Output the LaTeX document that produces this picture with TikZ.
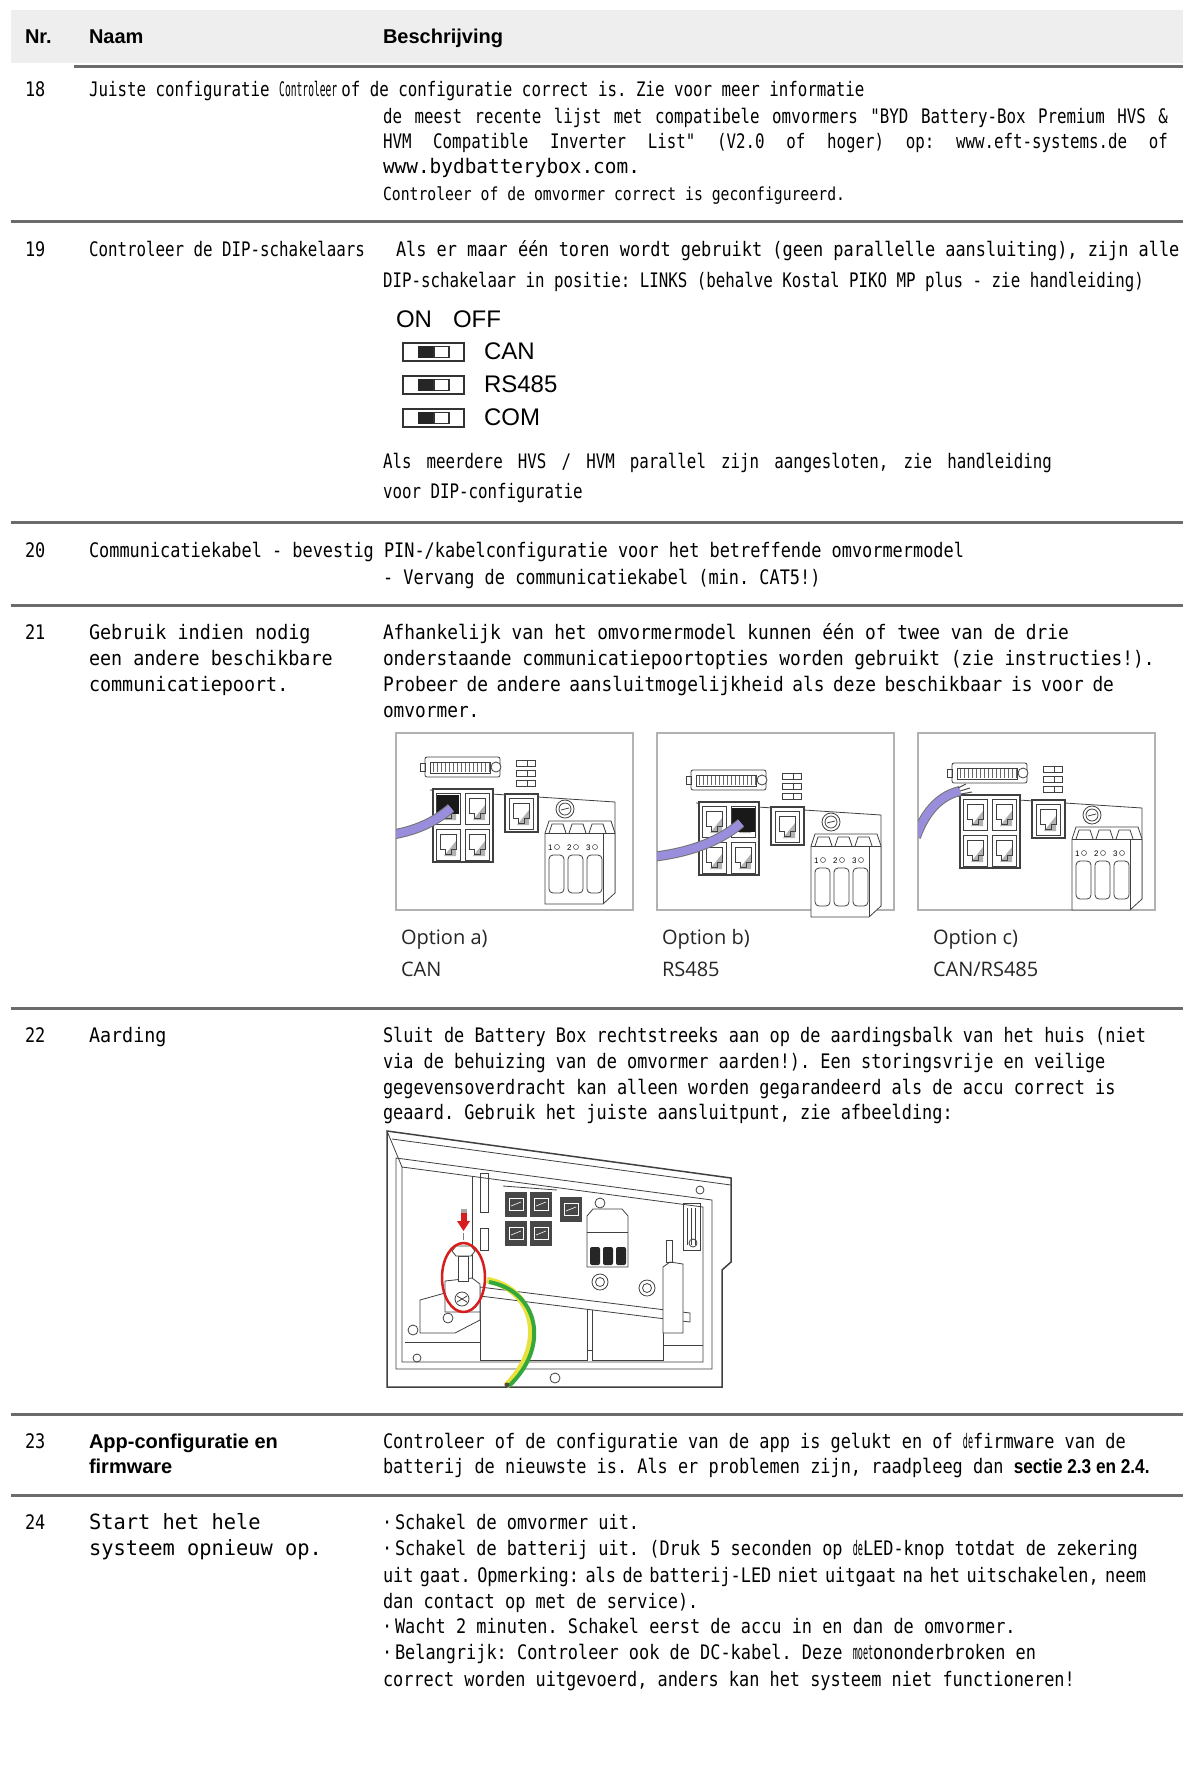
\documentclass[tikz,border=0pt]{standalone}
\usepackage{fontspec}
\usepackage{graphicx}
\newfontfamily\monoA{DejaVu Sans Mono}[FakeStretch=0.79,Ligatures=TeXOff]
\newfontfamily\monoB{DejaVu Sans Mono}[FakeStretch=0.845,Ligatures=TeXOff]
\newfontfamily\monoC{DejaVu Sans Mono}[FakeStretch=0.89,Ligatures=TeXOff]
\newfontfamily\monoD{DejaVu Sans Mono}[FakeStretch=0.92,Ligatures=TeXOff]
\newfontfamily\monoE{DejaVu Sans Mono}[FakeStretch=0.97,Ligatures=TeXOff]
\newfontfamily\monoF{DejaVu Sans Mono}[FakeStretch=0.82,Ligatures=TeXOff]
\newfontfamily\arial{Liberation Sans}
\newfontfamily\arialc{Liberation Sans}[FakeStretch=0.86]
\newfontfamily\opensans{Open Sans}
\definecolor{hdrgray}{RGB}{238,238,238}
\definecolor{cablepurple}{RGB}{152,142,220}
\definecolor{gndgreen}{RGB}{52,168,60}
\definecolor{gndyellow}{RGB}{232,226,60}
\definecolor{markred}{RGB}{215,30,30}
\newcommand\squash[2][0.5]{\scalebox{#1}[1]{#2}}
\newcommand\jbox[2]{\hbox to #1{\spaceskip=\fontdimen2\font plus 1fil minus .5\fontdimen2\font\relax\xspaceskip=\spaceskip #2}}
\frenchspacing
\tikzset{
	txt/.style={anchor=base west,inner sep=0pt,outer sep=0pt},
	hdr/.style={txt,font=\arial\bfseries\fontsize{20}{24}\selectfont},
	monoa/.style={txt,font=\monoA\fontsize{20}{24}\selectfont},
	monob/.style={txt,font=\monoB\fontsize{20}{24}\selectfont},
	monoc/.style={txt,font=\monoC\fontsize{20}{24}\selectfont},
	monod/.style={txt,font=\monoD\fontsize{20}{24}\selectfont},
	dipl/.style={txt,font=\arial\fontsize{24}{28}\selectfont},
	capt/.style={txt,font=\opensans\fontsize{20}{24}\selectfont,text=black!85},
	pinlbl/.style={txt,font=\arial\fontsize{8}{8}\selectfont},
	sepline/.style={line width=3pt,draw=black!58},
	optframe/.style={draw=black!30,line width=1.2pt},
	sketch/.style={draw=black!75,line width=0.8pt},
	cable/.style={draw=black!55,line width=1pt,double=cablepurple,double distance=8pt}
}
\newcommand\rjport[2]{%
	\begin{scope}[shift={(#1,#2)}]
		\fill[black!30] (20,12) -- (20,27) -- (8,27) -- cycle;
		\draw[sketch] (0,0) rectangle (24,31);
		\draw[sketch,line width=0.6pt] (4,5) -- (20,5) -- (20,20) -- (15,20) -- (15,25) -- (9,25) -- (9,20) -- (4,20) -- cycle;
	\end{scope}}
\newcommand\ioboard{%
	\draw[sketch,fill=white,rounded corners=2pt] (29,24) rectangle (104,44);
	\draw[sketch] (34,29) rectangle (94,40);
	\foreach \px in {37,41,...,93} \draw[black!60,line width=0.5pt] (\px,30) -- (\px,39);
	\draw[sketch,fill=white] (100,34) circle (5pt);
	\draw[sketch] (24,30) rectangle (29,38);
	\foreach \py in {27,37,47} {\draw[sketch] (120,\py) rectangle (139,\py+6); \draw[sketch] (131,\py) -- (131,\py+6);}
	\draw[sketch] (34,57) -- (219,69) -- (219,160);
	\draw[sketch,line width=1.2pt,fill=white] (37,56) rectangle (97,129);
	\rjport{40}{60}\rjport{69}{60}\rjport{40}{96}\rjport{69}{96}
	\draw[sketch,line width=1.2pt,fill=white] (109,61) rectangle (142,99);
	\rjport{113}{65}
	\draw[sketch] (169,76) circle (9pt) circle (6pt);
	\draw[sketch] (165,77) -- (173,75);
	\draw[sketch,fill=white] (149,100) -- (153,88) -- (215,88) -- (219,100) -- (219,160) -- (207,171) -- (149,171) -- cycle;
	\draw[sketch] (149,100) -- (219,100) (207,100) -- (207,171);
	\foreach \sx in {153,173,193} {\draw[sketch] (\sx,100) -- (\sx+3,91) -- (\sx+14,91) -- (\sx+17,100);}
	\foreach \sx/\pin in {152/1,171/2,190/3} {
		\node[pinlbl] (pin\pin) at (\sx,117) {\pin};
		\draw[sketch,line width=0.5pt] (\sx+9,114) circle (2.5pt);
		\draw[sketch,rounded corners=4pt] (\sx+1,122) rectangle (\sx+16,160);}
}

\begin{document}
\begin{tikzpicture}[x=1pt,y=-1pt]
	\useasboundingbox (0,0) rectangle (1183,1789);
	\fill[white] (0,0) rectangle (1183,1789);

	\fill[hdrgray] (11,10) rectangle (1183,63);
	\node[hdr] (hnr) at (25,43) {Nr.};
	\node[hdr] (hnaam) at (89,43) {Naam};
	\node[hdr] (hbesch) at (383,43) {Beschrijving};
	\draw[sepline] (74,66) -- (1183,66);

	\node[monob] (nr18) at (25,96) {18};
	\node[monoa] (naam18) at (89,96) {Juiste configuratie \squash[0.61]{Controleer}\hspace{4pt}of de configuratie correct is. Zie voor meer informatie};
	\node[monoa] (b18b) at (383,123) {\jbox{785pt}{de meest recente lijst met compatibele omvormers "BYD Battery-Box Premium HVS \&}};
	\node[monoa] (b18c) at (383,148) {\jbox{785pt}{HVM Compatible Inverter List" (V2.0 of hoger) op: www.eft-systems.de of}};
	\node[txt,font=\monoE\fontsize{20}{24}\selectfont] (b18d) at (383,173) {www.bydbatterybox.com.};
	\node[txt,font=\monoF\fontsize{18}{22}\selectfont] (b18e) at (383,200) {Controleer of de omvormer correct is geconfigureerd.};
	\draw[sepline] (11,221) -- (1183,221);

	\node[monob] (nr19) at (25,256) {19};
	\node[monoa] (naam19) at (89,256) {Controleer de DIP-schakelaars};
	\node[monob] (b19a) at (396,256) {Als er maar één toren wordt gebruikt (geen parallelle aansluiting), zijn alle};
	\node[monoa] (b19b) at (383,287) {DIP-schakelaar in positie: LINKS (behalve Kostal PIKO MP plus - zie handleiding)};
	\node[dipl] (dipon) at (396,327) {ON};
	\node[dipl] (dipoff) at (453,327) {OFF};
	\foreach \sw/\yy in {CAN/343,RS485/376,COM/409} {
		\draw[black!80,line width=1.2pt] (403,\yy) rectangle (464,\yy+18);
		\draw[black!80,line width=2.6pt] (403,\yy+18) -- (464,\yy+18);
		\fill[black!85] (418,\yy+3) rectangle (434,\yy+15);
		\draw[black!80,line width=1.2pt] (434,\yy+3.5) rectangle (449,\yy+14.5);
		\node[dipl] (sw\sw) at (484,\yy+16) {\sw};
	}
	\node[monoa] (b19c) at (383,468) {\jbox{669pt}{Als meerdere HVS / HVM parallel zijn aangesloten, zie handleiding}};
	\node[monoa] (b19d) at (383,498) {voor DIP-configuratie};
	\draw[sepline] (11,522) -- (1183,522);

	\node[monob] (nr20) at (25,557) {20};
	\node[monob] (naam20) at (89,557) {Communicatiekabel - bevestig PIN-/kabelconfiguratie voor het betreffende omvormermodel};
	\node[monob] (b20b) at (383,584) {- Vervang de communicatiekabel (min. CAT5!)};
	\draw[sepline] (11,605) -- (1183,605);

	\node[monob] (nr21) at (25,639) {21};
	\node[monod] (naam21a) at (89,639) {Gebruik indien nodig};
	\node[monod] (naam21b) at (89,665) {een andere beschikbare};
	\node[monod] (naam21c) at (89,691) {communicatiepoort.};
	\node[monoc] (b21a) at (383,639) {Afhankelijk van het omvormermodel kunnen één of twee van de drie};
	\node[monoc] (b21b) at (383,665) {onderstaande communicatiepoortopties worden gebruikt (zie instructies!).};
	\node[monoc] (b21c) at (383,691) {\jbox{731pt}{Probeer de andere aansluitmogelijkheid als deze beschikbaar is voor de}};
	\node[monoc] (b21d) at (383,717) {omvormer.};

	% option a
	\begin{scope}[shift={(396,733)}]
		\draw[optframe,fill=white] (0,0) rectangle (237,177);
		\ioboard
		\fill[black!90] (41,62) rectangle (63,81);
		\begin{scope}
			\clip (0,0) rectangle (237,177);
			\draw[cable] (-6,102) .. controls (25,97) and (42,86) .. (55,75);
		\end{scope}
	\end{scope}
	% option b
	\begin{scope}[shift={(657,733)}]
		\draw[optframe,fill=white] (0,0) rectangle (237,177);
		\begin{scope}[shift={(5,13)}]
			\ioboard
			\fill[black!90] (70,62) rectangle (93,86);
		\end{scope}
		\begin{scope}
			\clip (0,0) rectangle (237,177);
			\draw[cable] (-6,124) .. controls (40,119) and (68,104) .. (84,90);
		\end{scope}
	\end{scope}
	% option c
	\begin{scope}[shift={(918,733)}]
		\draw[optframe,fill=white] (0,0) rectangle (237,177);
		\begin{scope}[shift={(5,6)}]
			\ioboard
		\end{scope}
		\begin{scope}
			\clip (0,0) rectangle (237,177);
			\draw[cable] (-2,104) .. controls (8,76) and (24,62) .. (42,58);
		\end{scope}
		\draw[black!70,line width=1pt] (40,55) -- (48,51) (42,58) -- (52,55) (43,61) -- (54,59);
	\end{scope}
	\node[capt] (opta) at (401,944) {Option a)};
	\node[capt] (optacan) at (401,976) {CAN};
	\node[capt] (optb) at (662,944) {Option b)};
	\node[capt] (optbrs) at (662,976) {RS485};
	\node[capt] (optc) at (933,944) {Option c)};
	\node[capt] (optcboth) at (933,976) {CAN/RS485};
	\draw[sepline] (11,1008) -- (1183,1008);

	\node[monob] (nr22) at (25,1042) {22};
	\node[monod] (naam22) at (89,1042) {Aarding};
	\node[monob] (b22a) at (383,1042) {Sluit de Battery Box rechtstreeks aan op de aardingsbalk van het huis (niet};
	\node[monob] (b22b) at (383,1068) {via de behuizing van de omvormer aarden!). Een storingsvrije en veilige};
	\node[monob] (b22c) at (383,1094) {gegevensoverdracht kan alleen worden gegarandeerd als de accu correct is};
	\node[monob] (b22d) at (383,1119) {geaard. Gebruik het juiste aansluitpunt, zie afbeelding:};

	% aarding picture
	\draw[sketch,line width=1.5pt] (731,1178) -- (387,1131) -- (387,1387) -- (722,1387) -- (722,1270) -- (731,1262) -- cycle;
	\draw[sketch] (392,1139) -- (731,1185);
	\draw[sketch] (387,1131) -- (402,1167);
	\draw[sketch] (396,1158) -- (712,1200) -- (712,1369) -- (396,1369) -- cycle;
	\draw[sketch] (402,1167) -- (703,1207) -- (703,1362) -- (402,1362) -- cycle;
	\draw[sketch] (472,1177) -- (472,1287);
	\draw[sketch] (480,1173) rectangle (488,1212);
	\draw[sketch] (480,1228) rectangle (488,1250);
	\draw[sketch] (503,1186) -- (557,1190);
	\foreach \qx/\qy in {505/1192,530/1192,505/1221,530/1221,560/1197} {
		\fill[black!72] (\qx,\qy) rectangle (\qx+22,\qy+25);
		\draw[white,line width=0.6pt] (\qx+4,\qy+6) -- (\qx+18,\qy+6) -- (\qx+18,\qy+18) -- (\qx+4,\qy+18) -- cycle;
		\draw[white,line width=0.6pt] (\qx+6,\qy+14) -- (\qx+16,\qy+10);
	}
	\draw[sketch] (600,1203) circle (5pt);
	\draw[sketch,fill=white] (587,1216) -- (593,1209) -- (622,1209) -- (628,1216) -- (628,1267) -- (587,1267) -- cycle;
	\draw[sketch] (587,1232) -- (628,1232);
	\foreach \tx in {590,603,616} \fill[black!85,rounded corners=2pt] (\tx,1247) rectangle (\tx+10,1265);
	\draw[sketch] (600,1282) circle (8pt) circle (4.5pt);
	\draw[sketch] (647,1288) circle (8pt) circle (4.5pt);
	\draw[sketch,fill=white] (480,1287) -- (690,1313) -- (690,1322) -- (480,1296) -- cycle;
	\draw[sketch] (480,1296) -- (480,1360) -- (587,1360) -- (587,1309);
	\draw[sketch] (592,1310) -- (592,1360) -- (663,1360) -- (663,1318);
	\draw[sketch] (405,1342) -- (480,1342) (587,1350) -- (592,1350) (663,1345) -- (703,1345);
	\draw[sketch,fill=white] (663,1267) -- (670,1262) -- (683,1264) -- (683,1333) -- (663,1333) -- cycle;
	\draw[sketch] (666,1240) rectangle (672,1262);
	\draw[sketch] (683,1203) rectangle (700,1250);
	\draw[sketch] (687,1208) -- (687,1245) (691,1208) -- (691,1245) (695,1208) -- (695,1245);
	\draw[sketch,fill=white] (420,1300) -- (445,1293) -- (480,1300) -- (480,1320) -- (455,1333) -- (420,1333) -- cycle;
	\draw[sketch] (448,1318) circle (5pt);
	\foreach \cx/\cy/\cr in {413/1330/5,417/1358/4,555/1378/5,700/1190/4,693/1243/4} \draw[sketch] (\cx,\cy) circle (\cr pt);
	\draw[sketch,fill=white] (445,1281) -- (472,1278) -- (480,1284) -- (480,1312) -- (445,1312) -- cycle;
	\draw[sketch] (462,1299) circle (7pt);
	\draw[sketch] (457,1302) -- (467,1296) (457,1296) -- (467,1302);
	\draw[sketch,fill=white] (458,1256) rectangle (468,1281);
	\draw[sketch,fill=white] (452,1251) -- (456,1246) -- (471,1246) -- (475,1251) -- (471,1256) -- (456,1256) -- cycle;
	\draw[black!50,line width=0.6pt] (463,1233) -- (463,1240);
	\fill[markred] (460.5,1210) rectangle (466.5,1221);
	\fill[markred] (457,1221) -- (470,1221) -- (463.5,1231) -- cycle;
	\fill[black!35] (460.5,1209) rectangle (466.5,1213);
	\draw[markred,line width=2.5pt] (463.5,1277.5) ellipse (21.5pt and 34.5pt);
	\draw[gndyellow,line width=6.5pt] (487,1280) .. controls (535,1289) and (548,1345) .. (506,1386);
	\draw[gndgreen,line width=4pt] (489,1282) .. controls (538,1291) and (551,1346) .. (509,1386);
	\fill[black!70] (507,1385) circle (2.5pt);
	\draw[sepline] (11,1414) -- (1183,1414);

	\node[monob] (nr23) at (25,1448) {23};
	\node[hdr] (naam23a) at (89,1448) {App-configuratie en};
	\node[hdr] (naam23b) at (89,1473) {firmware};
	\node[monob] (b23a) at (383,1448) {Controleer of de configuratie van de app is gelukt en of \squash{de}firmware van de};
	\node[monob] (b23b) at (383,1473) {batterij de nieuwste is. Als er problemen zijn, raadpleeg dan {\arialc\bfseries sectie 2.3 en 2.4.}};
	\draw[sepline] (11,1495) -- (1183,1495);

	\node[monob] (nr24) at (25,1529) {24};
	\node[txt,font=\monoE\fontsize{21}{25}\selectfont] (naam24a) at (89,1529) {Start het hele};
	\node[txt,font=\monoE\fontsize{21}{25}\selectfont] (naam24b) at (89,1555) {systeem opnieuw op.};
	\node[monob] (b24a) at (382,1529) {\makebox[13pt][l]{·}Schakel de omvormer uit.};
	\node[monob] (b24b) at (382,1555) {\makebox[13pt][l]{·}Schakel de batterij uit. (Druk 5 seconden op \squash{de}LED-knop totdat de zekering};
	\node[monob] (b24c) at (383,1582) {\jbox{763pt}{uit gaat. Opmerking: als de batterij-LED niet uitgaat na het uitschakelen, neem}};
	\node[monob] (b24d) at (383,1608) {dan contact op met de service).};
	\node[monob] (b24e) at (382,1633) {\makebox[13pt][l]{·}Wacht 2 minuten. Schakel eerst de accu in en dan de omvormer.};
	\node[monob] (b24f) at (382,1659) {\makebox[13pt][l]{·}Belangrijk: Controleer ook de DC-kabel. Deze \squash{moet}ononderbroken en};
	\node[monob] (b24g) at (383,1686) {correct worden uitgevoerd, anders kan het systeem niet functioneren!};
\end{tikzpicture}
\end{document}
